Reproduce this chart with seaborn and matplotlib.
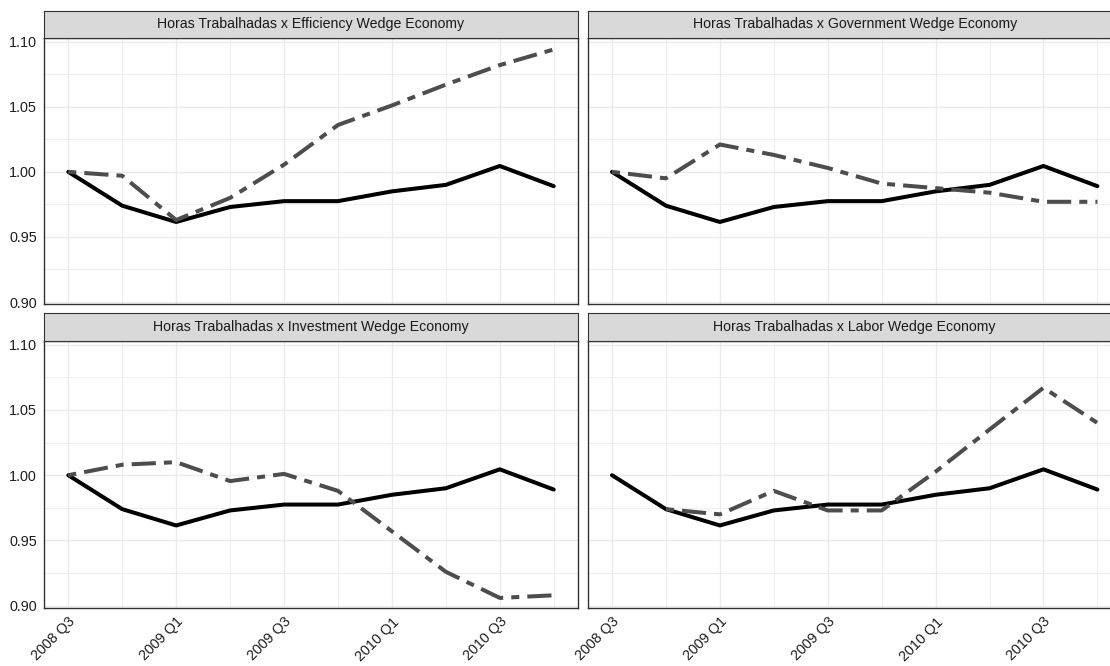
import numpy as np
import pandas as pd
import matplotlib
matplotlib.use("Agg")
import matplotlib.pyplot as plt
import seaborn as sns

quarters = ["2008 Q3", "2008 Q4", "2009 Q1", "2009 Q2", "2009 Q3",
            "2009 Q4", "2010 Q1", "2010 Q2", "2010 Q3", "2010 Q4"]

# horas trabalhadas (dados)
horas = [1.000, 0.974, 0.9615, 0.973, 0.9775, 0.9775, 0.985, 0.990, 1.0045, 0.989]

# economias com uma cunha
efficiency = [1.000, 0.997, 0.963, 0.980, 1.0055, 1.036, 1.051, 1.067, 1.082, 1.094]
government = [1.000, 0.995, 1.021, 1.013, 1.003, 0.991, 0.9875, 0.984, 0.977, 0.977]
investment = [1.000, 1.008, 1.010, 0.9955, 1.001, 0.988, 0.957, 0.926, 0.906, 0.908]
labor = [np.nan, 0.974, 0.970, 0.988, 0.973, 0.973, 1.0027, 1.035, 1.067, 1.040]

titles = ["Horas Trabalhadas x Efficiency Wedge Economy",
          "Horas Trabalhadas x Government Wedge Economy",
          "Horas Trabalhadas x Investment Wedge Economy",
          "Horas Trabalhadas x Labor Wedge Economy"]
economias = [efficiency, government, investment, labor]

sns.set_theme(style="white")
plt.rcParams["font.family"] = ["Liberation Sans", "DejaVu Sans"]

W, H = 1110, 666
fig = plt.figure(figsize=(W / 100, H / 100), dpi=100)


def box(x0, y0, x1, y1):
    return [x0 / W, 1 - y1 / H, (x1 - x0) / W, (y1 - y0) / H]


cols = [(44, 578), (587.7, 1121.7)]
rows = [(38, 304), (341, 607.7)]
strips = [(10.7, 38), (313, 341)]
border = "#333333"

idx = np.arange(len(quarters))

for i, (titulo, serie) in enumerate(zip(titles, economias)):
    r, c = divmod(i, 2)
    x0, x1 = cols[c]
    y0, y1 = rows[r]
    ax = fig.add_axes(box(x0, y0, x1, y1))
    df = pd.DataFrame({"t": idx, "horas": horas, "modelo": serie})

    sns.lineplot(data=df, x="t", y="horas", ax=ax, color="black",
                 linewidth=2.9, zorder=3)
    sns.lineplot(data=df, x="t", y="modelo", ax=ax, color="#4d4d4d",
                 linewidth=2.9, linestyle=(0, (2, 2, 6, 2)), zorder=4)

    ax.set_xlim(-0.45, 9.45)
    ax.set_ylim(0.8985, 1.1028)
    ax.set_xticks(idx[::2])
    ax.set_xticks(idx[1::2], minor=True)
    ax.set_yticks([0.90, 0.95, 1.00, 1.05, 1.10])
    ax.set_yticks([0.925, 0.975, 1.025, 1.075], minor=True)
    ax.grid(True, which="major", color="#ebebeb", linewidth=1.0)
    ax.grid(True, which="minor", color="#ebebeb", linewidth=0.55)
    ax.set_axisbelow(True)
    ax.set_xlabel("")
    ax.set_ylabel("")
    ax.tick_params(which="major", length=3, width=0.8, color=border,
                   labelsize=10.4, labelcolor="#1f1f1f", pad=2)
    ax.tick_params(which="minor", length=0)

    if r == 1:
        ax.set_xticklabels([quarters[k] for k in idx[::2]], rotation=45,
                           ha="right", rotation_mode="anchor")
    else:
        ax.set_xticklabels([])
        ax.tick_params(axis="x", which="major", length=0)
    if c == 0:
        ax.set_yticklabels(["0.90", "0.95", "1.00", "1.05", "1.10"])
    else:
        ax.set_yticklabels([])
        ax.tick_params(axis="y", which="major", length=0)

    for s in ax.spines.values():
        s.set_color(border)
        s.set_linewidth(1.0)

    # faixa do título (estilo facet)
    s0, s1 = strips[r]
    sax = fig.add_axes(box(x0, s0, x1, s1))
    sax.set_facecolor("#d9d9d9")
    sax.set_xticks([])
    sax.set_yticks([])
    for s in sax.spines.values():
        s.set_color(border)
        s.set_linewidth(0.8)
    sax.text(0.5, 0.5, titulo, ha="center", va="center", fontsize=10.2,
             color="#1a1a1a", transform=sax.transAxes)

fig.savefig("out.png", dpi=100, facecolor="white")
